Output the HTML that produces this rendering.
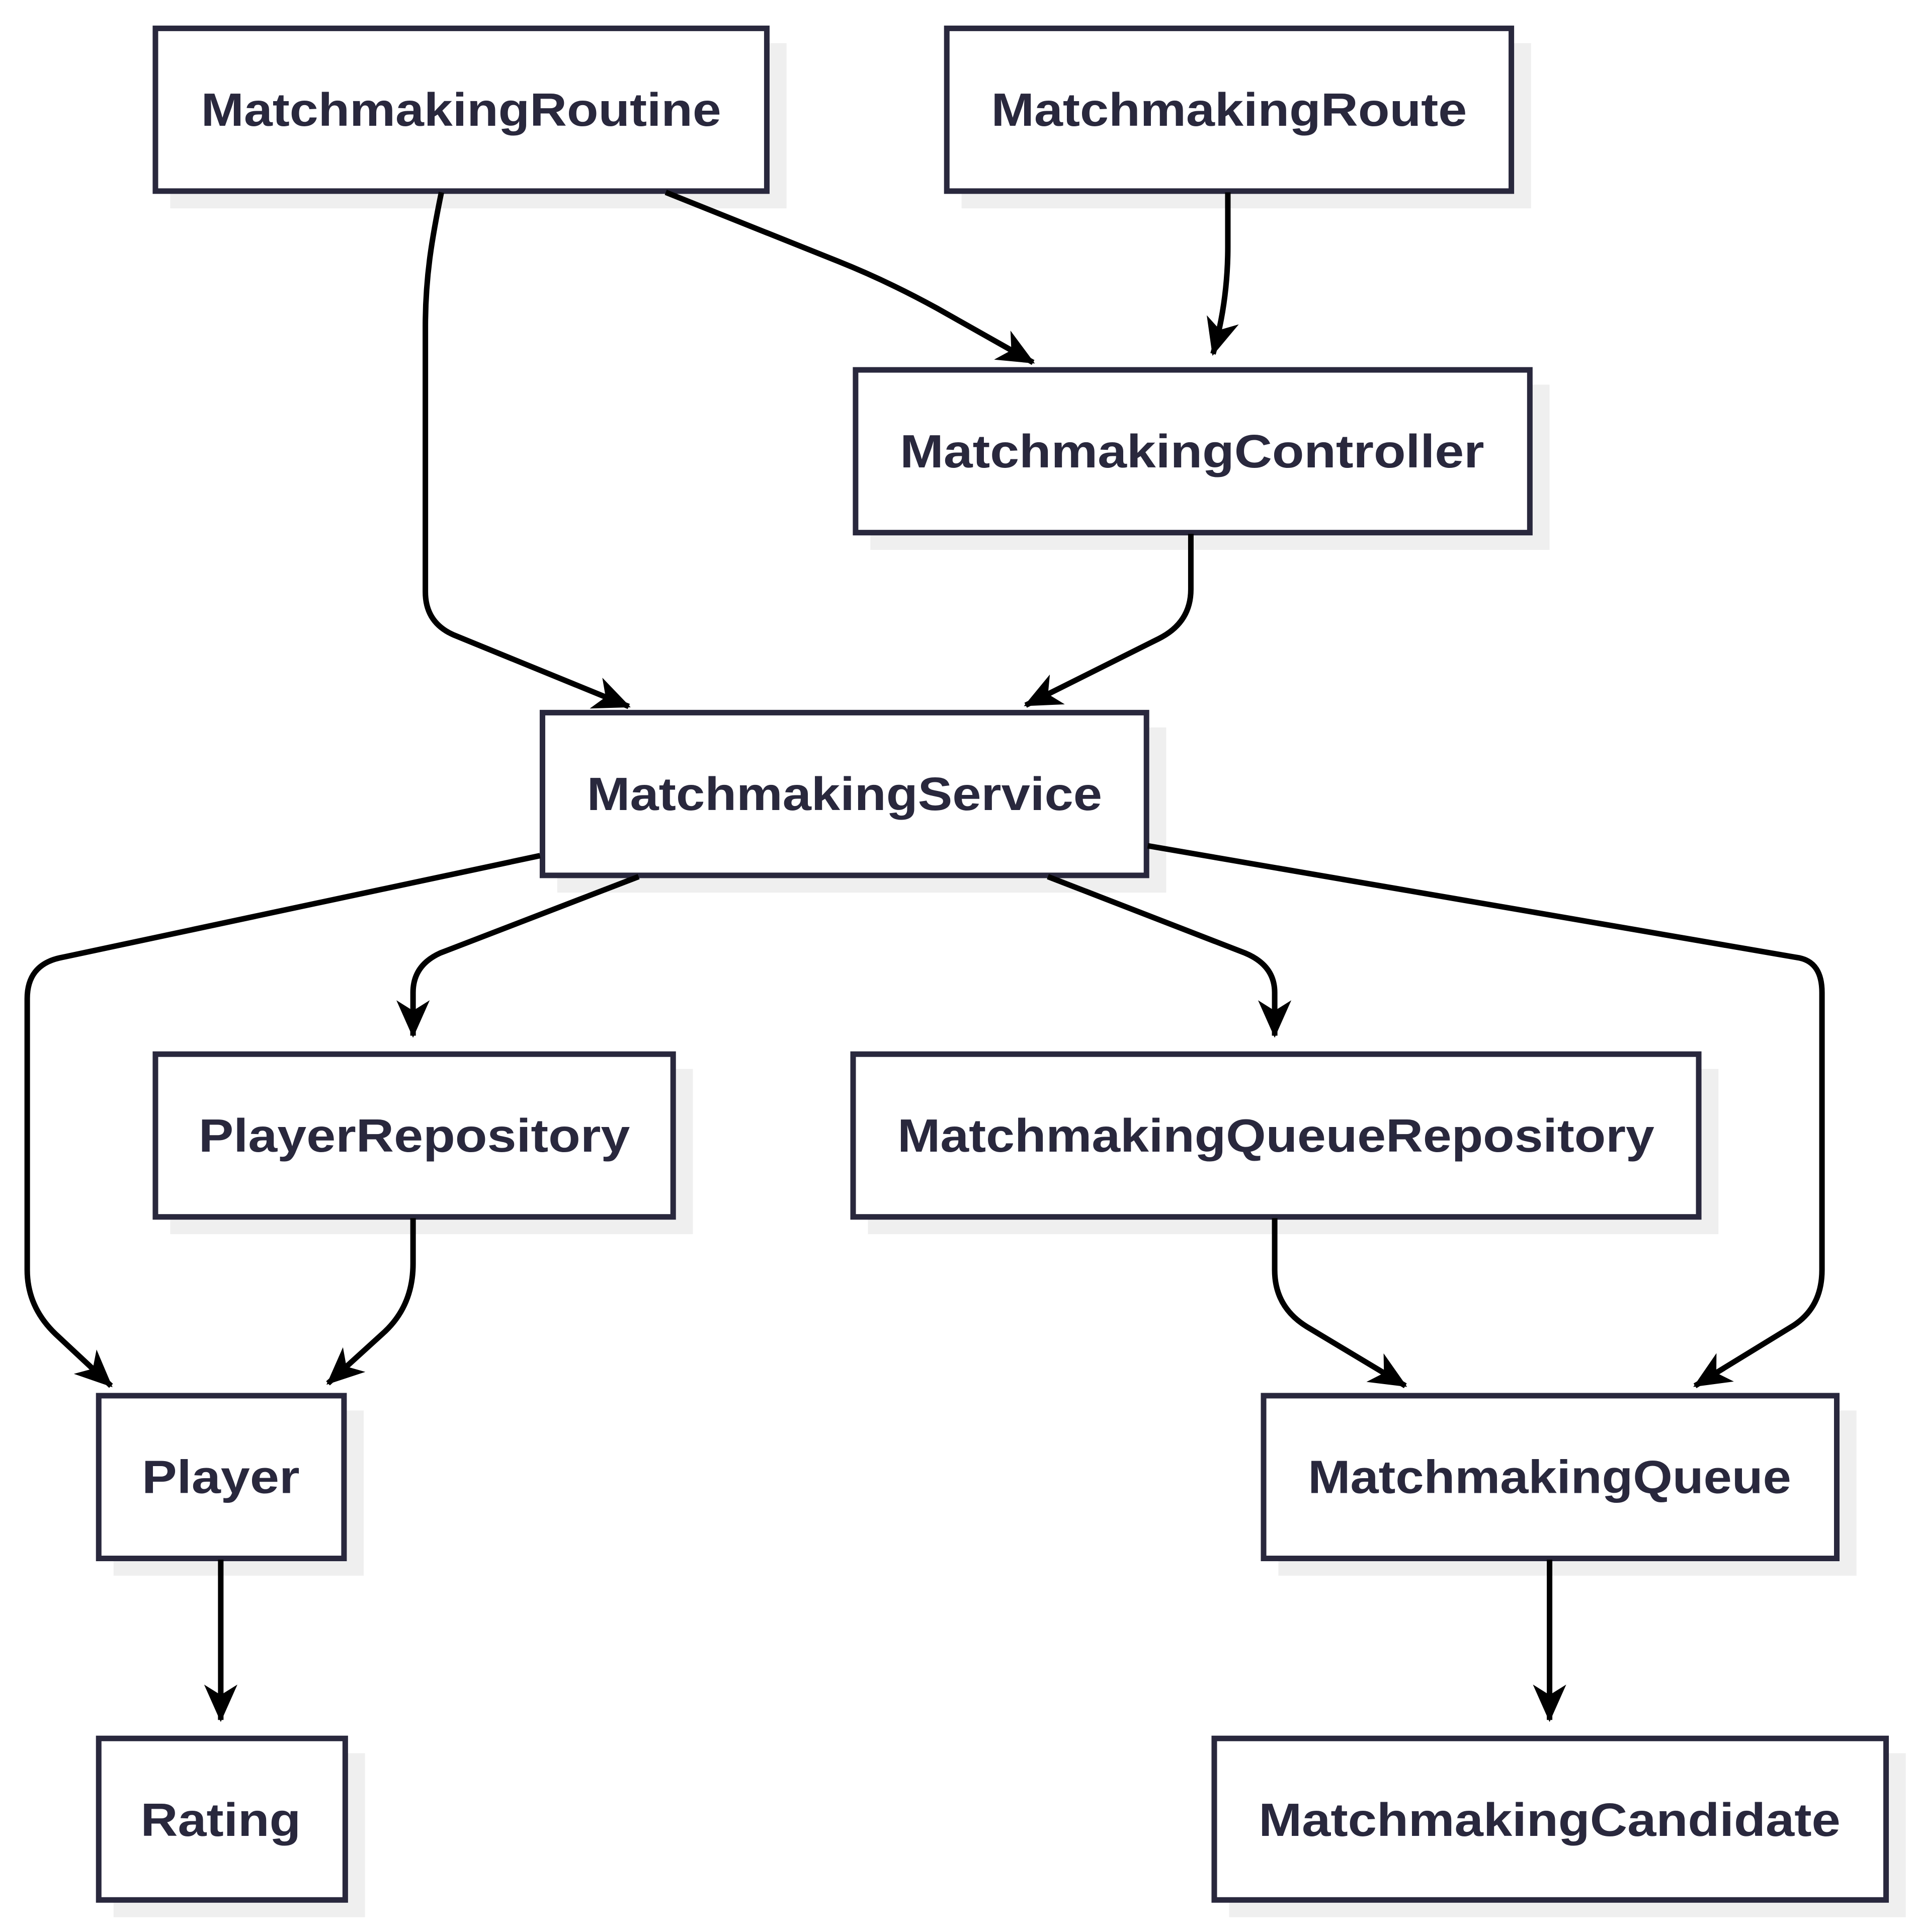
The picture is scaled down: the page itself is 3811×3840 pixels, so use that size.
<!DOCTYPE html>
<html><head><meta charset="utf-8"><style>
html,body{margin:0;padding:0;background:#fff;}
svg{display:block;}
text{font-family:"Liberation Sans",sans-serif;font-weight:bold;fill:#29283d;font-size:38px;}
</style></head><body>
<svg width="3811" height="3840" viewBox="0 0 1555 1567" xmlns="http://www.w3.org/2000/svg">
<defs>
<marker id="a" viewBox="0 0 20 20" refX="17" refY="10" markerWidth="7.5" markerHeight="7.5" markerUnits="strokeWidth" orient="auto">
<path d="M0,2 L18,10 L0,18 L5,10 Z" fill="#000"/>
</marker>
</defs>
<g fill="#efefef">
<rect x="138" y="35" width="500" height="134"/>
<rect x="780" y="35" width="462" height="134"/>
<rect x="706" y="312" width="551" height="134"/>
<rect x="452" y="590" width="494" height="134"/>
<rect x="138" y="867" width="424" height="134"/>
<rect x="704" y="867" width="690" height="134"/>
<rect x="92" y="1144" width="203" height="134"/>
<rect x="1037" y="1144" width="469" height="134"/>
<rect x="92" y="1422" width="204" height="133"/>
<rect x="997" y="1422" width="549" height="133"/>
</g>
<g fill="#fff" stroke="#29283d" stroke-width="4.5">
<rect x="126" y="23" width="496" height="132"/>
<rect x="768" y="23" width="458" height="132"/>
<rect x="694" y="300" width="547" height="132"/>
<rect x="440" y="578" width="490" height="132"/>
<rect x="126" y="855" width="420" height="132"/>
<rect x="692" y="855" width="686" height="132"/>
<rect x="80" y="1132" width="199" height="132"/>
<rect x="1025" y="1132" width="465" height="132"/>
<rect x="80" y="1410" width="200" height="131"/>
<rect x="985" y="1410" width="545" height="131"/>
</g>
<g text-anchor="middle">
<text x="374" y="102" textLength="422" lengthAdjust="spacingAndGlyphs">MatchmakingRoutine</text>
<text x="997" y="102" textLength="386" lengthAdjust="spacingAndGlyphs">MatchmakingRoute</text>
<text x="967" y="379" textLength="474" lengthAdjust="spacingAndGlyphs">MatchmakingController</text>
<text x="685" y="657" textLength="418" lengthAdjust="spacingAndGlyphs">MatchmakingService</text>
<text x="336" y="934" textLength="350" lengthAdjust="spacingAndGlyphs">PlayerRepository</text>
<text x="1035" y="934" textLength="614" lengthAdjust="spacingAndGlyphs">MatchmakingQueueRepository</text>
<text x="179" y="1211" textLength="128" lengthAdjust="spacingAndGlyphs">Player</text>
<text x="1257" y="1211" textLength="392" lengthAdjust="spacingAndGlyphs">MatchmakingQueue</text>
<text x="179" y="1489" textLength="130" lengthAdjust="spacingAndGlyphs">Rating</text>
<text x="1257" y="1489" textLength="472" lengthAdjust="spacingAndGlyphs">MatchmakingCandidate</text>
</g>
<g fill="none" stroke="#000" stroke-width="4.5" marker-end="url(#a)">
<path d="M358,156 C350,195 345,225 345,265 L345,480 Q345,505 368,515 L510,573"/>
<path d="M540,156 L680,212 Q720,228 760,250 L838,294"/>
<path d="M996,156 L996,200 Q996,245 984,287"/>
<path d="M966,433 L966,478 Q966,505 940,518 L832,572"/>
<path d="M438,694 L48,777 Q22,783 22,810 L22,1030 Q22,1060 45,1082 L90,1124"/>
<path d="M518,711 L357,773 Q335,783 335,805 L335,840"/>
<path d="M850,711 L1010,773 Q1034,783 1034,805 L1034,840"/>
<path d="M931,686 L1460,777 Q1478,781 1478,805 L1478,1030 Q1478,1060 1455,1075 L1375,1124"/>
<path d="M335,988 L335,1025 Q335,1060 310,1082 L266,1122"/>
<path d="M1034,988 L1034,1030 Q1034,1060 1060,1076 L1140,1124"/>
<path d="M179,1265 L179,1395"/>
<path d="M1257,1265 L1257,1395"/>
</g>
</svg>
</body></html>
